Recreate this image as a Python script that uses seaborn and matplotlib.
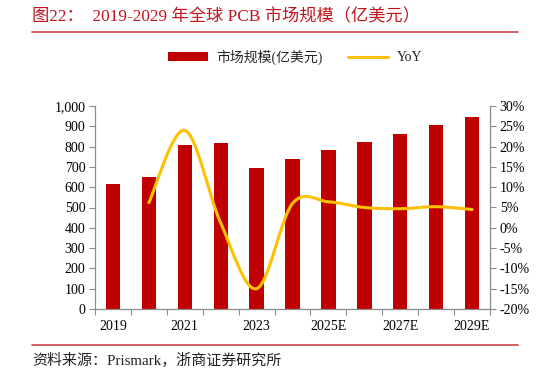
import matplotlib
matplotlib.use("Agg")
import matplotlib.pyplot as plt
import seaborn as sns
import numpy as np
import pandas as pd
from matplotlib.path import Path
from matplotlib.patches import PathPatch, Patch
from matplotlib.lines import Line2D
from matplotlib.ticker import FuncFormatter, MultipleLocator, FixedLocator

sns.set_theme(style="white")
FONTS = ['Liberation Serif', 'Noto Sans CJK SC', 'DejaVu Sans']
plt.rcParams['font.family'] = FONTS

years = ['2019', '2020', '2021', '2022', '2023', '2024', '2025E', '2026E', '2027E', '2028E', '2029E']
market = [614, 651, 808, 818, 695, 737, 784, 823, 862, 906, 946]
yoy_years = ['2020', '2021', '2022', '2023', '2024', '2025E', '2026E', '2027E', '2028E', '2029E']
yoy = [6.2, 24.0, 1.2, -15.0, 6.0, 6.4, 5.0, 4.7, 5.2, 4.5]
tick_labels = ['2019', '', '2021', '', '2023', '', '2025E', '', '2027E', '', '2029E']

BAR = '#c00000'
LINE = '#ffc000'
SPINE = '#8c8c8c'

fig = plt.figure(figsize=(5.48, 3.76), dpi=100)
ax = fig.add_axes([95/548, 1-309/376, (490-95)/548, (309-106)/376])

df = pd.DataFrame({'year': years, 'value': market})
sns.barplot(data=df, x='year', y='value', color=BAR, width=0.4, ax=ax,
            saturation=1, edgecolor='none', order=years)
ax.set_xlim(-0.5, len(years)-0.5)
ax.set_ylim(0, 1000)
ax.yaxis.set_major_locator(MultipleLocator(100))
ax.yaxis.set_major_formatter(FuncFormatter(lambda v, p: f"{int(v):,}"))
ax.set_xlabel('')
ax.set_ylabel('')
ax.set_xticks(range(len(years)))
ax.set_xticklabels(tick_labels)
ax.xaxis.set_minor_locator(FixedLocator(np.arange(-0.5, len(years), 1.0)))
ax.tick_params(axis='x', which='major', length=0, pad=8, labelsize=10, colors='black')
ax.tick_params(axis='x', which='minor', length=4, width=0.8, color=SPINE, direction='out', bottom=True)
ax.tick_params(axis='y', length=4, width=0.8, color=SPINE, direction='out', left=True,
               labelsize=10, labelcolor='black', pad=3)
for s in ['top', 'right']:
    ax.spines[s].set_visible(False)
for s in ['left', 'bottom']:
    ax.spines[s].set_color(SPINE)
    ax.spines[s].set_linewidth(0.9)
ax.grid(False)

ax2 = ax.twinx()
ax2.set_ylim(-20, 30)
ax2.yaxis.set_major_locator(MultipleLocator(5))
ax2.yaxis.set_major_formatter(FuncFormatter(lambda v, p: f"{int(round(v))}%"))
ax2.tick_params(axis='y', length=4, width=0.8, color=SPINE, direction='out', right=True,
                labelsize=10, labelcolor='black', pad=3)
for s in ['top', 'left', 'bottom']:
    ax2.spines[s].set_visible(False)
ax2.spines['right'].set_color(SPINE)
ax2.spines['right'].set_linewidth(0.9)
ax2.grid(False)

# smooth (Catmull-Rom style) YoY line through the data points
xs = np.array([years.index(y) for y in yoy_years], dtype=float)
ys = np.array(yoy, dtype=float)
P = np.column_stack([xs, ys])
Pe = np.vstack([P[0], P, P[-1]])
verts = [tuple(P[0])]
codes = [Path.MOVETO]
for i in range(len(P)-1):
    p0, p1, p2, p3 = Pe[i], Pe[i+1], Pe[i+2], Pe[i+3]
    c1 = p1 + (p2 - p0) / 6.0
    c2 = p2 - (p3 - p1) / 6.0
    verts += [tuple(c1), tuple(c2), tuple(p2)]
    codes += [Path.CURVE4] * 3
ax2.add_patch(PathPatch(Path(verts, codes), facecolor='none', edgecolor=LINE,
                        linewidth=2.2, capstyle='round', joinstyle='round'))

handles = [Patch(facecolor=BAR, edgecolor='none', label='市场规模(亿美元)'),
           Line2D([0], [0], color=LINE, lw=2.2, label='YoY')]
fig.legend(handles=handles, loc='center', bbox_to_anchor=(295/548, 1-57/376), ncol=2,
           frameon=False, fontsize=10, handlelength=2.9, handleheight=0.6,
           columnspacing=1.8, handletextpad=0.6)

title_color = '#c0141e'
fig.text(32/548, 1-17/376, '图22：  2019-2029 年全球 PCB 市场规模（亿美元）',
         fontsize=12.4, color=title_color, ha='left', va='center', family=FONTS)
fig.add_artist(Line2D([32/548, 518/548], [1-32/376, 1-32/376], color='#cc4444', lw=1.2))
fig.add_artist(Line2D([32/548, 518/548], [1-345/376, 1-345/376], color='#cc4444', lw=1.2))
fig.text(32/548, 1-361/376, '资料来源：Prismark，浙商证券研究所',
         fontsize=10.8, color='#222222', ha='left', va='center', family=FONTS)

fig.savefig('out.png', dpi=100)
